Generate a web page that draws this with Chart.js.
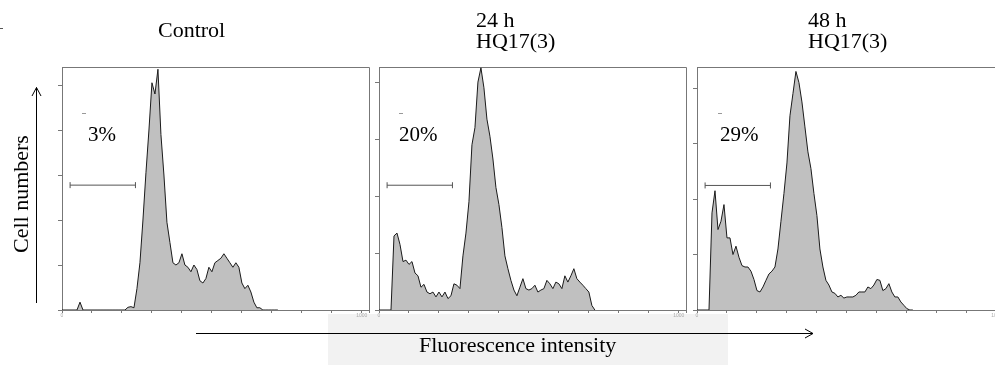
<!DOCTYPE html>
<html>
<head>
<meta charset="utf-8">
<script src="https://cdn.jsdelivr.net/npm/chart.js@4.4.0/dist/chart.umd.min.js"></script>
<style>
  html, body { margin: 0; padding: 0; background: #fff; width: 995px; height: 365px; overflow: hidden; }
  #stage { position: relative; width: 995px; height: 365px; overflow: hidden;
           font-family: 'Liberation Serif', 'Times New Roman', serif; color: #000; }
  #wash { position: absolute; left: 328px; top: 314px; width: 400px; height: 51px; background: #f2f2f2; }
  canvas { position: absolute; left: 0; top: 0; }
  svg { position: absolute; left: 0; top: 0; }
  .txt { position: absolute; font-size: 22px; line-height: 22px; white-space: nowrap; }
  .pct { position: absolute; font-size: 21px; line-height: 21px; white-space: nowrap; }
</style>
</head>
<body>
<div id="stage">
  <div id="wash"></div>
  <canvas id="p0" width="1010" height="365"></canvas>
  <canvas id="p1" width="1010" height="365"></canvas>
  <canvas id="p2" width="1010" height="365"></canvas>

  <svg width="995" height="365">
    <g stroke="#000" stroke-width="1" fill="none">
      <line x1="36.5" y1="303" x2="36.5" y2="87.5"/>
      <polyline points="32,96 36.5,87.5 41,96"/>
      <line x1="196" y1="333.5" x2="813" y2="333.5"/>
      <polyline points="805,329 813,333.5 805,338"/>
    </g>
    <g stroke="#999" stroke-width="1">
      <line x1="82" y1="113.5" x2="86" y2="113.5"/>
      <line x1="399" y1="113.5" x2="403" y2="113.5"/>
      <line x1="718" y1="113.5" x2="722" y2="113.5"/>
      <line x1="0" y1="28.5" x2="3" y2="28.5" stroke="#555"/>
    </g>
  </svg>

  <div class="txt" style="left:158px;top:18.6px">Control</div>
  <div class="txt" style="left:476px;top:8.6px">24 h</div>
  <div class="txt" style="left:476px;top:30.1px">HQ17(3)</div>
  <div class="txt" style="left:808px;top:8.6px">48 h</div>
  <div class="txt" style="left:808px;top:30.1px">HQ17(3)</div>
  <div class="pct" style="left:88px;top:124px">3%</div>
  <div class="pct" style="left:399px;top:124px">20%</div>
  <div class="pct" style="left:720px;top:124px">29%</div>
  <div class="txt" style="left:419px;top:334.3px">Fluorescence intensity</div>
  <div class="txt" style="left:9.9px;top:253px;transform:rotate(-90deg);transform-origin:left top">Cell numbers</div>
</div>

<script>
// fluorescence channel, shared by the three histograms
const channels = [0, 10, 20, 30, 40, 50, 60, 70, 80, 90, 100, 110, 120, 130, 140, 150, 160, 170, 180, 190,
  200, 210, 220, 230, 240, 250, 260, 270, 280, 290, 300, 310, 320, 330, 340, 350, 360, 370, 380, 390,
  400, 410, 420, 430, 440, 450, 460, 470, 480, 490, 500, 510, 520, 530, 540, 550, 560, 570, 580, 590,
  600, 610, 620, 630, 640, 650, 660, 670, 680, 690, 700, 710, 720];

// cell counts per channel
const controlCounts = [0, 0, 0, 0, 0, 0, 3.5, 0, 0, 0, 0, 0, 0, 0, 0, 0, 0, 0, 0, 0,
  0, 0, 1.2, 1.5, 1, 9.5, 21, 40, 61, 80, 101, 96, 107, 78, 60, 39, 30, 21, 20, 21,
  25, 20, 19, 17, 20, 18, 13, 12, 14, 19, 17, 21, 22, 23, 25, 23, 21, 19, 21, 19,
  12, 9.5, 11, 8, 3.5, 1, 1, 0, 0, 0, 0, 0, 0];
const h24Counts = [0, 0, 0, 0, 0, 26, 27, 23, 17, 17.5, 16, 17, 13, 12, 8, 9, 6.3, 5.7, 6.3, 4.6,
  6.3, 4.6, 6.3, 4, 5, 9.2, 8.7, 7.5, 19, 27, 38, 58, 64, 80, 85, 78, 67, 61, 53, 43,
  37, 29, 19, 14.5, 10.4, 7, 5, 8, 11, 7.5, 7, 7.5, 8.7, 6.3, 7, 7.5, 10.4, 9.2, 7.5, 9.8,
  9.2, 7.5, 12, 9.8, 12, 14.5, 11, 9.8, 8.7, 7.5, 6.3, 1.6, 0];
const h48Counts = [0, 0, 0, 0, 0, 35, 43, 29, 32, 38, 26, 26, 20, 23, 19, 16, 15.5, 15.5, 14, 11,
  7, 6.5, 8.3, 10.7, 13, 14, 15.5, 22, 32, 42, 53, 70, 78, 86, 82, 75, 66, 57, 51, 42,
  34, 22, 15.5, 10.7, 9, 6.5, 6, 4.7, 5.3, 4.3, 4.7, 4.7, 4.7, 5.3, 6.5, 6.5, 6.5, 8.3, 7.7, 9,
  11, 10.7, 7, 7.7, 9.5, 6.5, 4.7, 4.7, 2.9, 1.7, 0.5, 0, 0];

// axis top (counts) of each panel
const yMax = [108, 85.3, 87.6];
// M1 gate: channel range and drawing height (counts)
const gateChannels = [27, 245];
const gateCounts = [55.5, 43.8, 44.9];
// x tick labels that are printed
const labelledChannels = [0, 1000];

// plot boxes on the page (px)
const boxes = [
  { left: 62, right: 369, top: 67, bottom: 310 },
  { left: 379, right: 686, top: 67, bottom: 310 },
  { left: 697, right: 1004, top: 67, bottom: 310 }
];

const CW = 1010, CH = 365;

// top and right edges of the plot frame
const framePlugin = {
  id: 'frame',
  beforeDatasetsDraw(chart) {
    const { ctx, chartArea: a } = chart;
    ctx.save();
    ctx.strokeStyle = '#777';
    ctx.lineWidth = 1;
    ctx.beginPath();
    ctx.moveTo(a.left, a.top + 0.5);
    ctx.lineTo(Math.round(a.right) + 0.5, a.top + 0.5);
    ctx.lineTo(Math.round(a.right) + 0.5, a.bottom + 3);
    ctx.stroke();
    ctx.restore();
  }
};

function makePanel(i, counts) {
  const box = boxes[i];
  new Chart(document.getElementById('p' + i), {
    type: 'line',
    data: {
      datasets: [
        {
          data: channels.map((c, k) => ({ x: c, y: counts[k] })),
          fill: 'origin',
          backgroundColor: '#c0c0c0',
          borderColor: '#1a1a1a',
          borderWidth: 1,
          pointRadius: 0,
          tension: 0,
          order: 2
        },
        {
          data: gateChannels.map(c => ({ x: c, y: gateCounts[i] })),
          fill: false,
          borderColor: '#555',
          borderWidth: 1,
          pointStyle: 'line',
          rotation: 90,
          pointRadius: 3,
          pointBorderColor: '#555',
          pointBorderWidth: 1,
          order: 1
        }
      ]
    },
    options: {
      responsive: false,
      animation: false,
      devicePixelRatio: 1,
      events: [],
      layout: {
        padding: {
          left: box.left - 5,
          right: CW - box.right,
          top: box.top,
          bottom: CH - box.bottom - 10
        }
      },
      plugins: {
        legend: { display: false },
        tooltip: { enabled: false }
      },
      scales: {
        x: {
          type: 'linear',
          min: 0,
          max: 1024,
          afterFit: s => { s.height = 10; },
          ticks: {
            stepSize: 100,
            includeBounds: false,
            autoSkip: false,
            maxRotation: 0,
            padding: 0,
            color: '#aaa',
            font: { size: 5 },
            callback: v => labelledChannels.includes(v) ? String(v) : ''
          },
          grid: { drawOnChartArea: false, tickLength: 3, color: '#777' },
          border: { color: '#777' }
        },
        y: {
          min: 0,
          max: yMax[i],
          afterFit: s => { s.width = 5; },
          ticks: { display: false, stepSize: 20, includeBounds: false },
          grid: { drawOnChartArea: false, tickLength: 4, color: '#777' },
          border: { color: '#777' }
        }
      }
    },
    plugins: [framePlugin]
  });
}

makePanel(0, controlCounts);
makePanel(1, h24Counts);
makePanel(2, h48Counts);
</script>
</body>
</html>
